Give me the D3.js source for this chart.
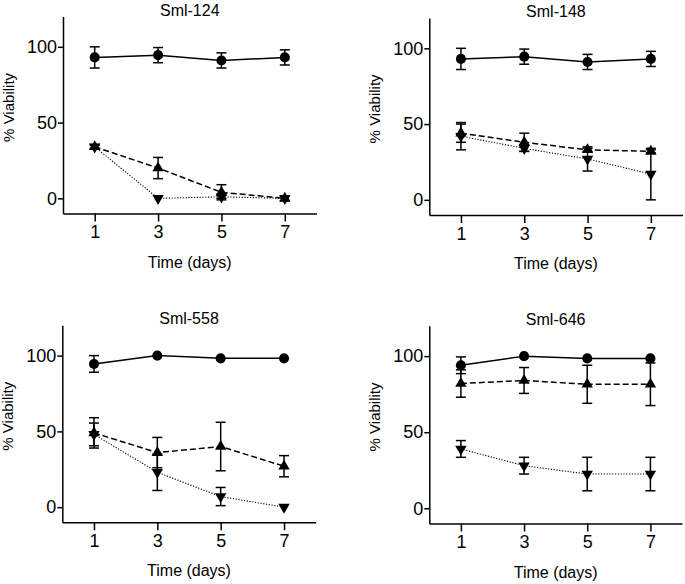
<!DOCTYPE html>
<html>
<head>
<meta charset="utf-8">
<script src="https://cdn.jsdelivr.net/npm/d3@7"></script>
<style>
  html, body { margin: 0; padding: 0; background: #fff; }
  svg { display: block; }
  text { font-family: "Liberation Sans", Arial, sans-serif; fill: #000; }
</style>
</head>
<body>
<svg id="chart" width="685" height="584"></svg>
<script>
// ---------- data ----------
const days = [1, 3, 5, 7];
const xTicks = [1, 3, 5, 7];
const yTicks = [0, 50, 100];
const panelTitles = ["Sml-124", "Sml-148", "Sml-558", "Sml-646"];
const xLabel = "Time (days)";
const yLabel = "% Viability";

// Sml-124
const circleMean124 = [93, 94.5, 91, 93];
const circleSd124   = [7, 5, 5, 5];
const upMean124     = [34, 20, 4, 0];
const upSd124       = [1.5, 7, 5, 1.5];
const downMean124   = [34, 0, 1, 0];
const downSd124     = [1, 0, 1, 0];

// Sml-148
const circleMean148 = [93, 94.5, 91, 93];
const circleSd148   = [7, 5, 5, 5];
const upMean148     = [44, 38, 33, 32];
const upSd148       = [6, 6, 1, 1];
const downMean148   = [42, 34, 27, 17];
const downSd148     = [9, 2, 8, 17];

// Sml-558
const circleMean558 = [94.5, 100, 98.2, 98.2];
const circleSd558   = [5.5, 0, 0, 0];
const upMean558     = [49, 36, 40, 27];
const upSd558       = [10, 10, 16, 7];
const downMean558   = [48, 23, 7, 0];
const downSd558     = [7.5, 12, 6, 0];

// Sml-646
const circleMean646 = [94, 100, 98.5, 98.5];
const circleSd646   = [5.5, 0, 0, 0];
const upMean646     = [82, 84, 81.5, 81.5];
const upSd646       = [9, 8.5, 12.5, 14];
const downMean646   = [39, 28, 22.5, 22.5];
const downSd646     = [5.5, 5.5, 11, 11];

const panelData = [
  { circle: [circleMean124, circleSd124], up: [upMean124, upSd124], down: [downMean124, downSd124] },
  { circle: [circleMean148, circleSd148], up: [upMean148, upSd148], down: [downMean148, downSd148] },
  { circle: [circleMean558, circleSd558], up: [upMean558, upSd558], down: [downMean558, downSd558] },
  { circle: [circleMean646, circleSd646], up: [upMean646, upSd646], down: [downMean646, downSd646] }
];

// ---------- layout ----------
const layout = [
  { x0: 63,    x1: 316.5, top: 16.5,  bot: 213.5 },
  { x0: 429.3, x1: 682.5, top: 18,    bot: 215 },
  { x0: 62.3,  x1: 315.7, top: 325.3, bot: 522.3 },
  { x0: 429.3, x1: 682,   top: 325.7, bot: 523.5 }
];
const xDomain = [0, 8];
const yDomain = [-10, 120];

const svg = d3.select("#chart");

const seriesStyle = {
  circle: { dash: null, width: 1.5, symbol: d3.symbolCircle, size: 80, rotate: 0 },
  up:     { dash: "6,3", width: 1.5, symbol: d3.symbolTriangle, size: 56, rotate: 0 },
  down:   { dash: "1.2,1.6", width: 1.1, symbol: d3.symbolTriangle, size: 56, rotate: 180 }
};
const drawOrder = ["down", "up", "circle"];

panelData.forEach((pd, i) => {
  const L = layout[i];
  const x = d3.scaleLinear().domain(xDomain).range([L.x0, L.x1]);
  const y = d3.scaleLinear().domain(yDomain).range([L.bot, L.top]);
  const g = svg.append("g");

  // axes
  const yAxis = d3.axisLeft(y).tickValues(yTicks).tickSize(5).tickPadding(1).tickSizeOuter(0);
  const xAxis = d3.axisBottom(x).tickValues(xTicks).tickSize(8).tickPadding(4).tickSizeOuter(0);

  const ya = g.append("g").attr("transform", `translate(${L.x0},0)`).call(yAxis);
  const xa = g.append("g").attr("transform", `translate(0,${L.bot})`).call(xAxis);
  [ya, xa].forEach(a => {
    a.select(".domain").attr("stroke", "#000").attr("stroke-width", 1.5);
    a.selectAll(".tick line").attr("stroke", "#000").attr("stroke-width", 1.5);
    a.selectAll(".tick text").attr("font-size", 18).attr("font-family", '"Liberation Sans", Arial, sans-serif').attr("fill", "#000");
  });

  // title
  g.append("text")
    .attr("x", (L.x0 + L.x1) / 2)
    .attr("y", L.top - 1)
    .attr("text-anchor", "middle")
    .attr("font-size", 16)
    .text(panelTitles[i]);

  // x label
  g.append("text")
    .attr("x", x(4))
    .attr("y", L.bot + 54)
    .attr("text-anchor", "middle")
    .attr("font-size", 16)
    .text(xLabel);

  // y label
  const ly = y(60);
  const lx = L.x0 - 49;
  g.append("text")
    .attr("transform", `translate(${lx},${ly}) rotate(-90)`)
    .attr("text-anchor", "middle")
    .attr("font-size", 15)
    .text(yLabel);

  // lines
  drawOrder.forEach(key => {
    const [mean, sd] = pd[key];
    const st = seriesStyle[key];
    const pts = days.map((d, j) => ({ d, m: mean[j], s: sd[j] }));
    const line = d3.line().x(p => x(p.d)).y(p => y(p.m));
    g.append("path")
      .datum(pts)
      .attr("d", line)
      .attr("fill", "none")
      .attr("stroke", "#000")
      .attr("stroke-width", st.width)
      .attr("stroke-dasharray", st.dash);
  });

  // error bars + markers
  drawOrder.forEach(key => {
    const [mean, sd] = pd[key];
    const st = seriesStyle[key];
    const pts = days.map((d, j) => ({ d, m: mean[j], s: sd[j] }));
    const eb = g.append("g").attr("stroke", "#000").attr("stroke-width", 1.5).attr("fill", "none");
    pts.filter(p => p.s >= 0.8).forEach(p => {
      const cx = x(p.d), yLo = y(p.m - p.s), yHi = y(p.m + p.s);
      eb.append("line").attr("x1", cx).attr("x2", cx).attr("y1", yLo).attr("y2", yHi);
      eb.append("line").attr("x1", cx - 5).attr("x2", cx + 5).attr("y1", yLo).attr("y2", yLo);
      eb.append("line").attr("x1", cx - 5).attr("x2", cx + 5).attr("y1", yHi).attr("y2", yHi);
    });
    const sym = d3.symbol().type(st.symbol).size(st.size);
    g.append("g").selectAll("path")
      .data(pts)
      .join("path")
      .attr("d", sym)
      .attr("transform", p => `translate(${x(p.d)},${y(p.m)}) rotate(${st.rotate})`)
      .attr("fill", "#000");
  });
});
</script>
</body>
</html>
